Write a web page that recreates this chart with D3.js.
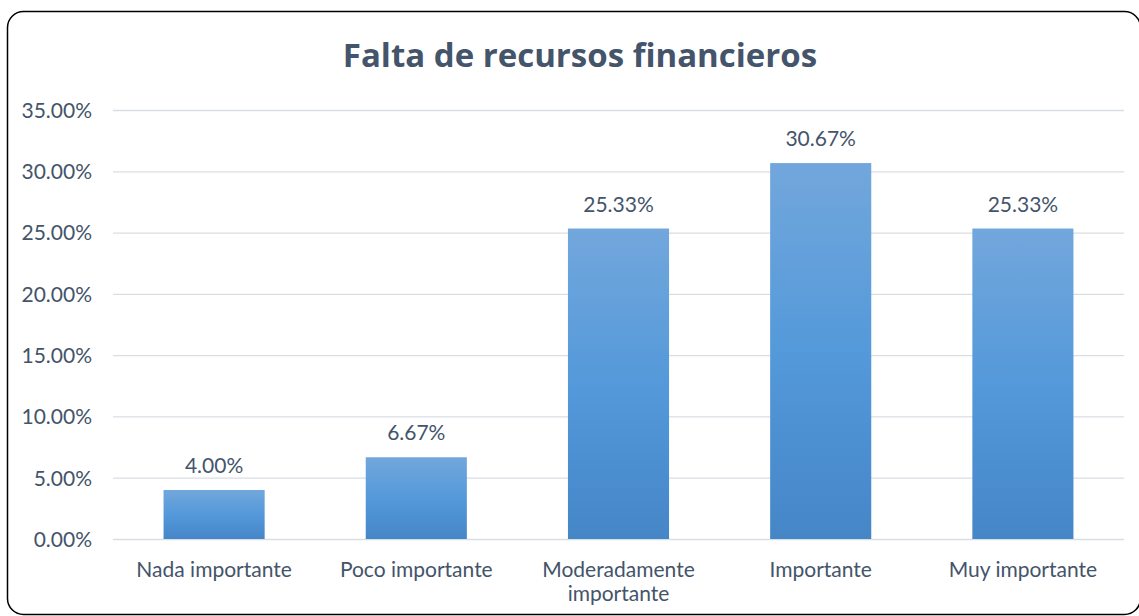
<!DOCTYPE html>
<html><head><meta charset="utf-8">
<script src="https://cdn.jsdelivr.net/npm/d3@7"></script>
<style>body{margin:0;background:#fff}svg{display:block}</style>
</head><body>
<script>
const title = "Falta de recursos financieros";
const categories = ["Nada importante","Poco importante","Moderadamente importante","Importante","Muy importante"];
const categoryLines = [["Nada importante"],["Poco importante"],["Moderadamente","importante"],["Importante"],["Muy importante"]];
const values = [0.04, 0.0667, 0.2533, 0.3067, 0.2533];
const valueLabels = ["4.00%","6.67%","25.33%","30.67%","25.33%"];
const yTicks = [0,0.05,0.10,0.15,0.20,0.25,0.30,0.35];

const W=1139,H=616;
const svg=d3.select("body").append("svg").attr("width",W).attr("height",H);
const defs=svg.append("defs");
const g=defs.append("linearGradient").attr("id","bg").attr("x1",0).attr("y1",0).attr("x2",0).attr("y2",1);
g.append("stop").attr("offset","0%").attr("stop-color","#72A7DC");
g.append("stop").attr("offset","50%").attr("stop-color","#5499DA");
g.append("stop").attr("offset","100%").attr("stop-color","#4586C7");

svg.append("rect").attr("x",7.5).attr("y",11.5).attr("width",1133).attr("height",603).attr("rx",16)
  .attr("fill","#fff").attr("stroke","#000").attr("stroke-width",1.5);

const txt="#44546A", font="Lato, 'Open Sans', sans-serif", fs=21;
svg.append("text").attr("x",580).attr("y",67).attr("text-anchor","middle")
  .attr("font-family","'Open Sans', sans-serif").attr("font-weight","bold").attr("font-size",33)
  .attr("fill",txt).text(title);

const x=d3.scaleBand().domain(categories).range([113,1124]).paddingInner(0.5).paddingOuter(0.25);
const y=d3.scaleLinear().domain([0,0.35]).range([539,110]);

const yAxis=d3.axisLeft(y).tickValues(yTicks).tickFormat(d=>(d*100).toFixed(2)+"%").tickSize(-(1124-113)).tickPadding(21);
const ya=svg.append("g").attr("transform","translate(113,0)").call(yAxis);
ya.select(".domain").remove();
ya.selectAll(".tick line").attr("stroke","#D9DEE5").attr("stroke-width",1.3).attr("x1",1011).attr("x2",0);
ya.selectAll(".tick text").attr("font-family",font).attr("font-size",fs).attr("fill",txt).attr("dy","0.35em");

svg.append("g").selectAll("rect").data(values).join("rect")
  .attr("x",(d,i)=>x(categories[i])).attr("width",x.bandwidth())
  .attr("y",d=>y(d)).attr("height",d=>y(0)-y(d)).attr("fill","url(#bg)");

svg.append("g").selectAll("text").data(values).join("text")
  .attr("x",(d,i)=>x(categories[i])+x.bandwidth()/2).attr("y",d=>y(d)-17)
  .attr("text-anchor","middle").attr("font-family",font).attr("font-size",fs).attr("fill",txt)
  .text((d,i)=>valueLabels[i]);

const xl=svg.append("g").selectAll("text").data(categories).join("text")
  .attr("x",d=>x(d)+x.bandwidth()/2).attr("y",577).attr("text-anchor","middle")
  .attr("font-family",font).attr("font-size",fs).attr("fill",txt);
xl.each(function(d,i){
  const t=d3.select(this);
  categoryLines[i].forEach((ln,j)=>t.append("tspan").attr("x",x(d)+x.bandwidth()/2).attr("dy",j?24:0).text(ln));
});
</script>
</body></html>
